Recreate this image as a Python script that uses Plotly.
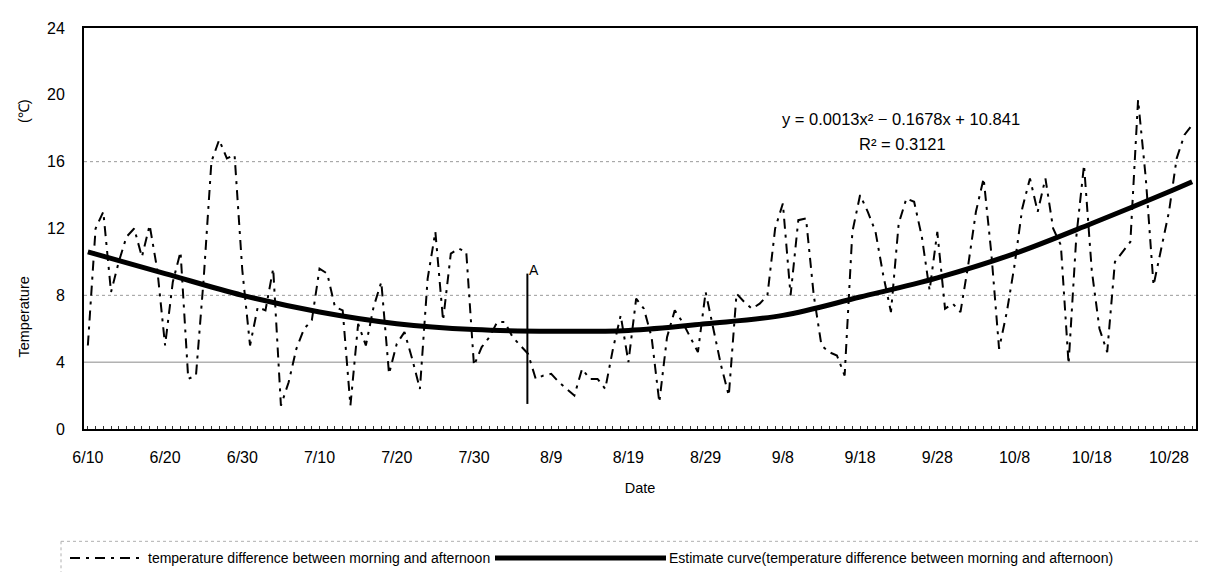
import pandas as pd
import plotly.graph_objects as go

# ---------------- data ----------------
DAYS = pd.date_range("2000-06-10", "2000-10-31", freq="D")
DATES = [f"{d.month}/{d.day}" for d in DAYS]

TEMP_DIFF = [
    5.0, 12.0, 13.0, 8.2, 10.0, 11.5, 12.0, 10.3, 12.2, 9.5,      # 6/10-6/19
    5.0, 8.8, 10.6, 3.0, 3.2, 9.0, 16.0, 17.3, 16.2, 16.4,        # 6/20-6/29
    9.5, 5.0, 7.3, 7.1, 9.6, 1.4, 2.8, 4.8, 6.0, 6.5,             # 6/30-7/9
    9.6, 9.3, 7.3, 7.1, 1.4, 6.3, 5.0, 7.3, 8.8, 3.3,             # 7/10-7/19
    5.1, 5.8, 4.2, 2.4, 9.0, 11.8, 6.5, 10.5, 10.8, 10.6,         # 7/20-7/29
    3.8, 4.9, 5.5, 6.4, 6.4, 5.5, 5.0, 4.5, 3.0, 3.2,             # 7/30-8/8
    3.3, 2.8, 2.4, 2.0, 3.6, 3.0, 3.0, 2.4, 4.8, 6.8,             # 8/9-8/18
    4.0, 7.8, 7.2, 5.5, 1.6, 5.5, 7.1, 6.4, 5.5, 4.6,             # 8/19-8/28
    8.2, 6.0, 3.8, 2.0, 8.1, 7.6, 7.2, 7.5, 8.0, 12.0,            # 8/29-9/7
    13.5, 8.0, 12.5, 12.6, 8.0, 5.0, 4.6, 4.4, 3.2, 11.8,         # 9/8-9/17
    14.0, 13.0, 11.8, 9.2, 7.0, 12.3, 13.8, 13.6, 11.5, 8.3,      # 9/18-9/27
    11.8, 7.2, 7.5, 7.0, 9.8, 13.0, 15.0, 10.5, 4.8, 7.0,         # 9/28-10/7
    9.8, 13.2, 15.0, 13.0, 15.0, 12.0, 11.0, 3.9, 11.5, 15.8,     # 10/8-10/17
    9.5, 6.0, 4.6, 10.0, 10.6, 11.2, 19.7, 15.0, 8.6, 10.8,       # 10/18-10/27
    13.0, 16.2, 17.6, 18.2,                                       # 10/28-10/31
]

EST_DATES = ["6/10", "6/20", "6/30", "7/10", "7/20", "7/30", "8/9", "8/19",
             "8/29", "9/8", "9/18", "9/28", "10/8", "10/18", "10/28", "10/31"]
EST_VALUES = [10.6, 9.3, 8.0, 7.0, 6.3, 5.95, 5.85, 5.9,
              6.3, 6.8, 7.9, 9.05, 10.5, 12.3, 14.2, 14.8]

TICK_DATES = ["6/10", "6/20", "6/30", "7/10", "7/20", "7/30", "8/9", "8/19",
              "8/29", "9/8", "9/18", "9/28", "10/8", "10/18", "10/28"]
Y_TICKS = [0, 4, 8, 12, 16, 20, 24]
GRID_DOTTED = [8, 16]
GRID_SOLID = [4]
A_DATE = "8/6"
A_RANGE = [1.5, 9.3]

X_TITLE = "Date"
Y_TITLE = "Temperature" + "\u00a0" * 38 + "(℃)"
SERIES1 = "temperature difference between morning and afternoon"
SERIES2 = "Estimate curve(temperature difference between morning and afternoon)"
EQUATION = "y = 0.0013x² − 0.1678x + 10.841"
R2_TEXT = "R² = 0.3121"

# ---------------- figure ----------------
FONT = "Liberation Sans, Arial, sans-serif"
DASH = "10px,6px,3px,6px"
TS = dict(zip(DATES, DAYS))
HALF_DAY = pd.Timedelta(hours=12)

fig = go.Figure()
fig.add_trace(go.Scatter(
    x=DAYS, y=TEMP_DIFF, mode="lines", name=SERIES1,
    line=dict(color="black", width=2, dash=DASH), showlegend=False,
))
fig.add_trace(go.Scatter(
    x=[TS[d] for d in EST_DATES], y=EST_VALUES, mode="lines", name=SERIES2,
    line=dict(color="black", width=5, shape="spline", smoothing=1.0), showlegend=False,
))

fig.update_xaxes(
    type="date",
    range=[DAYS[0] - HALF_DAY, DAYS[-1] + HALF_DAY],
    tickmode="array", tickvals=[TS[d] for d in TICK_DATES], ticktext=TICK_DATES,
    ticks="inside", ticklen=3, tickwidth=1, tickcolor="#333",
    minor=dict(ticks="inside", ticklen=3, tickwidth=1, tickcolor="#333",
               dtick=86400000, tick0=DAYS[0], showgrid=False),
    showline=True, linewidth=2, linecolor="black", mirror=True,
    showgrid=False, zeroline=False,
    tickfont=dict(family=FONT, size=16, color="black"),
    ticklabelstandoff=13,
    title=dict(text=X_TITLE, font=dict(family=FONT, size=14.5, color="black"), standoff=18),
)
fig.update_yaxes(
    range=[0, 24], tickmode="array", tickvals=Y_TICKS,
    ticks="", showline=True, linewidth=2, linecolor="black", mirror=True,
    showgrid=False, zeroline=False,
    tickfont=dict(family=FONT, size=16, color="black"),
    ticklabelstandoff=14,
    title=dict(text=Y_TITLE, font=dict(family=FONT, size=14.5, color="black"), standoff=14),
)

shapes = []
for g in GRID_DOTTED:
    shapes.append(dict(type="line", xref="paper", yref="y", x0=0, x1=1, y0=g, y1=g,
                       line=dict(color="#9a9a9a", width=1, dash="dot"), layer="below"))
for g in GRID_SOLID:
    shapes.append(dict(type="line", xref="paper", yref="y", x0=0, x1=1, y0=g, y1=g,
                       line=dict(color="#8a8a8a", width=1), layer="below"))

a_x = TS[A_DATE] - pd.Timedelta(hours=2)
shapes.append(dict(type="line", xref="x", yref="y", x0=a_x, x1=a_x,
                   y0=A_RANGE[0], y1=A_RANGE[1], line=dict(color="black", width=2)))

# manual legend (plot area: x 76..1188 px, y 14..421 px)
def px_x(p):
    return (p - 76) / 1112.0

def px_y(p):
    return (421 - p) / 407.0

LEG_Y = px_y(552)
shapes.append(dict(type="line", xref="paper", yref="paper", x0=px_x(62), x1=px_x(135),
                   y0=LEG_Y, y1=LEG_Y, line=dict(color="black", width=2, dash=DASH)))
shapes.append(dict(type="line", xref="paper", yref="paper", x0=px_x(487), x1=px_x(658),
                   y0=LEG_Y, y1=LEG_Y, line=dict(color="black", width=5)))
shapes.append(dict(type="line", xref="paper", yref="paper", x0=px_x(53), x1=px_x(1205),
                   y0=px_y(535), y1=px_y(535), line=dict(color="#b0b0b0", width=1, dash="dot")))
shapes.append(dict(type="line", xref="paper", yref="paper", x0=px_x(53), x1=px_x(53),
                   y0=px_y(535), y1=px_y(575), line=dict(color="#b0b0b0", width=1, dash="dot")))

annotations = [
    dict(text=EQUATION, xref="paper", yref="paper", x=px_x(893), y=px_y(106),
         showarrow=False, font=dict(family=FONT, size=16.5, color="black"),
         xanchor="center", yanchor="middle"),
    dict(text=R2_TEXT, xref="paper", yref="paper", x=px_x(894), y=px_y(132),
         showarrow=False, font=dict(family=FONT, size=16.5, color="black"),
         xanchor="center", yanchor="middle"),
    dict(text="A", xref="x", yref="y", x=a_x, y=A_RANGE[1] + 0.2,
         showarrow=False, font=dict(family=FONT, size=14, color="black"),
         xanchor="left", yanchor="middle"),
    dict(text=SERIES1, xref="paper", yref="paper", x=px_x(138), y=LEG_Y,
         showarrow=False, font=dict(family=FONT, size=14, color="black"),
         xanchor="left", yanchor="middle"),
    dict(text=SERIES2, xref="paper", yref="paper", x=px_x(659), y=LEG_Y,
         showarrow=False, font=dict(family=FONT, size=14, color="black"),
         xanchor="left", yanchor="middle"),
]

fig.update_layout(
    width=1208, height=572, autosize=False,
    margin=dict(l=76, r=20, t=14, b=151),
    plot_bgcolor="white", paper_bgcolor="white",
    showlegend=False,
    shapes=shapes, annotations=annotations,
    font=dict(family=FONT, color="black"),
)

fig.write_html("out.html")
